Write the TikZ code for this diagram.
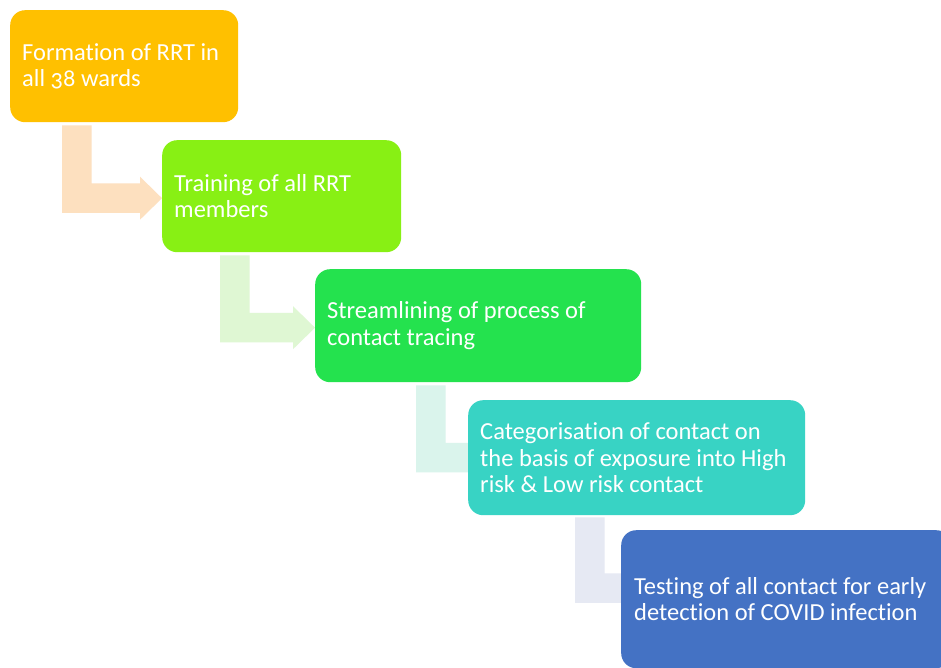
\documentclass[tikz,border=0pt]{standalone}
\usepackage{fontspec}
\setmainfont{Carlito}[Numbers=OldStyle, Ligatures={NoCommon}]
\usetikzlibrary{calc,backgrounds}
\definecolor{cA}{HTML}{FFC000}
\definecolor{cB}{HTML}{88F014}
\definecolor{cC}{HTML}{24E24E}
\definecolor{cD}{HTML}{38D3C4}
\definecolor{cE}{HTML}{4472C4}
\definecolor{aA}{HTML}{FDE0BF}
\definecolor{aB}{HTML}{DFF7D3}
\definecolor{aC}{HTML}{DAF4EC}
\definecolor{aD}{HTML}{E6E9F3}
\tikzset{
  stepbox/.style={rectangle, rounded corners=15pt, anchor=north west,
    inner sep=0pt},
  steptext/.style={anchor=west, inner sep=0pt, align=left, text=white,
    font=\fontsize{24.5}{26.5}\selectfont},
}
% #1 colour, #2 top-left of the vertical bar, #3 tip of the head
\newcommand\bentarrow[3]{%
  \fill[#1] let \p1=#2, \p2=#3 in
    (\x1,\y1) -- (\x1+29.5pt,\y1) -- (\x1+29.5pt,\y2+14.75pt)
    -- (\x2-22pt,\y2+14.75pt) -- (\x2-22pt,\y2+21.5pt) -- (\x2,\y2)
    -- (\x2-22pt,\y2-21.5pt) -- (\x2-22pt,\y2-14.75pt)
    -- (\x1,\y2-14.75pt) -- cycle;}
\begin{document}
\begin{tikzpicture}[x=1pt,y=-1pt]
\clip (0,0) rectangle (941,668);
\node[stepbox, fill=cA, minimum width=228pt, minimum height=112pt] (b1) at (10,10) {};
\node[stepbox, fill=cB, minimum width=239pt, minimum height=112pt] (b2) at (162,140) {};
\node[stepbox, fill=cC, minimum width=326pt, minimum height=113pt] (b3) at (315,269) {};
\node[stepbox, fill=cD, minimum width=337pt, minimum height=115pt] (b4) at (468,400) {};
\node[stepbox, fill=cE, minimum width=330pt, minimum height=138pt] (b5) at (621,530) {};
\node[steptext] (t1) at ($(b1.west)+(12,0)$) {Formation of RRT in\\all 38 wards};
\node[steptext] (t2) at ($(b2.west)+(12,0)$) {Training of all RRT\\members};
\node[steptext] (t3) at ($(b3.west)+(12,0)$) {Streamlining of process of\\contact tracing};
\node[steptext] (t4) at ($(b4.west)+(12,0)$) {Categorisation of contact on\\the basis of exposure into High\\risk \& Low risk contact};
\node[steptext] (t5) at ($(b5.west)+(13,0)$) {Testing of all contact for early\\detection of COVID infection};
\begin{scope}[on background layer]
\fill[white] (0,0) rectangle (941,668);
\bentarrow{aA}{($(b1.south west)+(52,3)$)}{($(b2.west)+(0,2)$)}
\bentarrow{aB}{($(b2.south west)+(58,3)$)}{($(b3.west)+(0,2)$)}
\bentarrow{aC}{($(b3.south west)+(101,3)$)}{($(b4.west)+(22,0)$)}
\bentarrow{aD}{($(b4.south west)+(107,2)$)}{($(b5.west)+(24,-11)$)}
\end{scope}
\end{tikzpicture}
\end{document}
